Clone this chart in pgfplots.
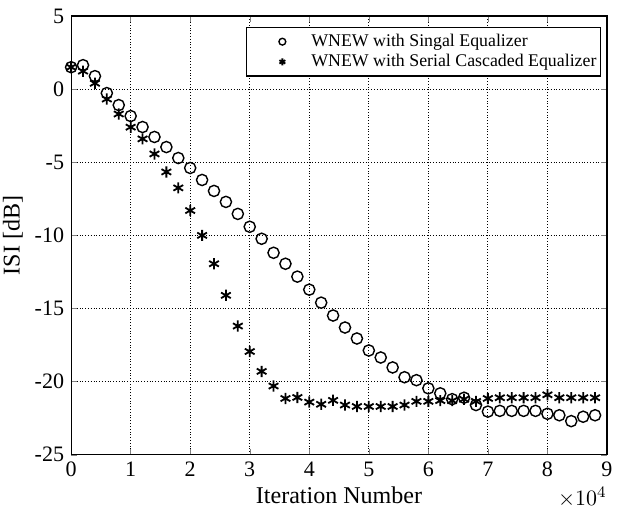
\documentclass[border=0pt]{standalone}
\usepackage{pgfplots}
\pgfplotsset{compat=1.18}
\usepackage{fontspec}
\setmainfont{Liberation Serif}

\pgfplotstableread{
x y
0.0 1.5
0.2 1.64
0.4 0.89
0.6 -0.27
0.8 -1.09
1.0 -1.84
1.2 -2.59
1.4 -3.27
1.6 -3.96
1.8 -4.71
2.0 -5.39
2.2 -6.21
2.4 -6.96
2.6 -7.71
2.8 -8.53
3.0 -9.41
3.2 -10.23
3.4 -11.19
3.6 -11.94
3.8 -12.82
4.0 -13.71
4.2 -14.6
4.4 -15.48
4.6 -16.3
4.8 -17.05
5.0 -17.87
5.2 -18.35
5.4 -19.03
5.6 -19.7
5.8 -19.9
6.0 -20.46
6.2 -20.8
6.4 -21.2
6.6 -21.1
6.8 -21.6
7.0 -22.05
7.2 -22.0
7.4 -22.0
7.6 -22.0
7.8 -22.0
8.0 -22.2
8.2 -22.3
8.4 -22.7
8.6 -22.4
8.8 -22.3
}\single

\pgfplotstableread{
x y
0.0 1.5
0.2 1.23
0.4 0.4
0.6 -0.68
0.8 -1.7
1.0 -2.6
1.2 -3.4
1.4 -4.43
1.6 -5.66
1.8 -6.75
2.0 -8.3
2.2 -10.0
2.4 -11.94
2.6 -14.1
2.8 -16.2
3.0 -17.94
3.2 -19.3
3.4 -20.3
3.6 -21.15
3.8 -21.08
4.0 -21.4
4.2 -21.55
4.4 -21.28
4.6 -21.6
4.8 -21.7
5.0 -21.7
5.2 -21.7
5.4 -21.7
5.6 -21.6
5.8 -21.35
6.0 -21.35
6.2 -21.3
6.4 -21.3
6.6 -21.2
6.8 -21.35
7.0 -21.15
7.2 -21.1
7.4 -21.1
7.6 -21.1
7.8 -21.1
8.0 -20.9
8.2 -21.1
8.4 -21.1
8.6 -21.1
8.8 -21.1
}\serial

\pgfplotsset{
  legmark/.style={
    legend image code/.code={
      \path (0pt,0pt) (29.5pt,0pt);
      \draw[##1, mark size=1.7pt] plot coordinates {(17.5pt,0pt)};
    }
  }
}

\begin{document}
\begin{tikzpicture}
\begin{axis}[
  scale only axis, width=267.5pt, height=219pt,
  xmin=0, xmax=9, ymin=-25, ymax=5,
  xtick={0,1,...,9}, ytick={-25,-20,...,5},
  tick align=inside, tick pos=both,
  major tick length=3pt,
  grid=major, major grid style={black, densely dotted, line width=0.6pt},
  axis line style={line width=0.6pt},
  /pgf/number format/assume math mode=true,
  tick label style={font=\fontsize{11}{13}\selectfont},
  xlabel={Iteration Number}, ylabel={ISI [dB]},
  label style={font=\fontsize{12}{14}\selectfont},
  xlabel style={yshift=2pt},
  ylabel style={yshift=-1pt},
  legend style={at={(0.989,0.975)}, anchor=north east, draw=black, line width=0.6pt,
    font=\fontsize{8.9}{11}\selectfont, row sep=0pt, inner xsep=0pt, inner ysep=2pt,
    nodes={inner ysep=1.2pt}},
  legend cell align=left,
]
\addplot[only marks, mark=o, mark size=2.8pt, line width=0.7pt, legmark] table {\single};
\addlegendentry{WNEW with Singal Equalizer}
\addplot[only marks, mark=asterisk, mark size=2.8pt, line width=0.9pt, legmark] table {\serial};
\addlegendentry{WNEW with Serial Cascaded Equalizer}
\coordinate (sw) at (rel axis cs:0,0);
\coordinate (se) at (rel axis cs:1,0);
\coordinate (ne) at (rel axis cs:1,1);
\end{axis}
\node[anchor=east, inner sep=0pt, font=\fontsize{11}{13}\selectfont] at ([yshift=-21pt]se) {$\times 10^{4}$};
\pgfresetboundingbox
\path ([shift={(-35.5pt,-28pt)}]sw) rectangle ([shift={(8pt,8pt)}]ne);
\end{tikzpicture}
\end{document}
